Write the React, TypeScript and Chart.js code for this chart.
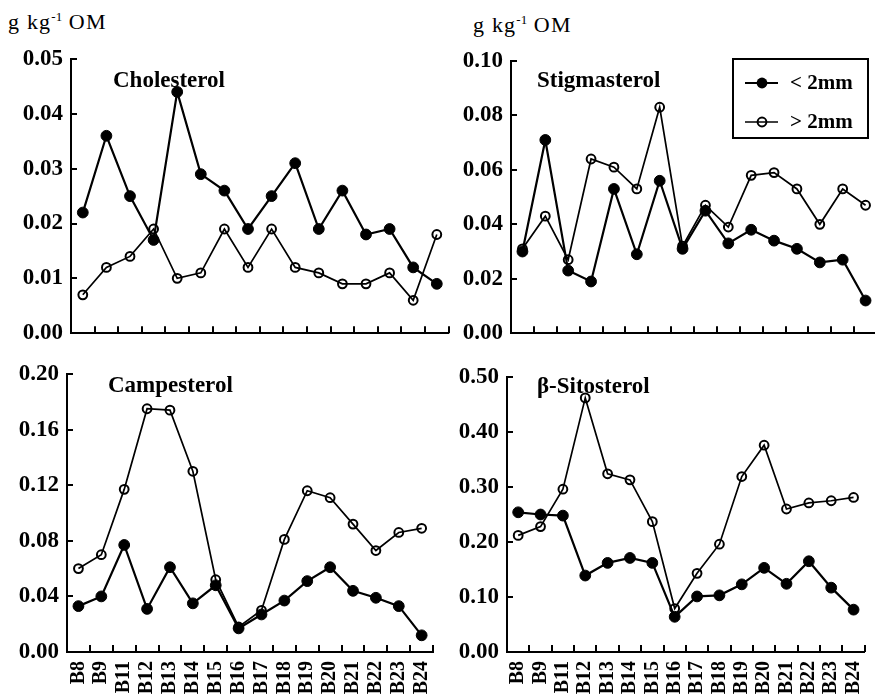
import React, { useEffect, useRef } from "react";
import { Chart, registerables } from "chart.js";

Chart.register(...registerables);

// ---------- data ----------
const CATEGORIES = ["B8", "B9", "B11", "B12", "B13", "B14", "B15", "B16", "B17", "B18", "B19", "B20", "B21", "B22", "B23", "B24"];
const SERIES_LABELS = ["< 2mm", "> 2mm"];
const UNIT_MAIN = "g kg";
const UNIT_SUP = "-1";
const UNIT_TAIL = " OM";

const CHOLESTEROL_LT2 = [0.022, 0.036, 0.025, 0.017, 0.044, 0.029, 0.026, 0.019, 0.025, 0.031, 0.019, 0.026, 0.018, 0.019, 0.012, 0.009];
const CHOLESTEROL_GT2 = [0.007, 0.012, 0.014, 0.019, 0.010, 0.011, 0.019, 0.012, 0.019, 0.012, 0.011, 0.009, 0.009, 0.011, 0.006, 0.018];

const STIGMASTEROL_LT2 = [0.030, 0.071, 0.023, 0.019, 0.053, 0.029, 0.056, 0.031, 0.045, 0.033, 0.038, 0.034, 0.031, 0.026, 0.027, 0.012];
const STIGMASTEROL_GT2 = [0.031, 0.043, 0.027, 0.064, 0.061, 0.053, 0.083, 0.032, 0.047, 0.039, 0.058, 0.059, 0.053, 0.040, 0.053, 0.047];

const CAMPESTEROL_LT2 = [0.033, 0.040, 0.077, 0.031, 0.061, 0.035, 0.048, 0.017, 0.027, 0.037, 0.051, 0.061, 0.044, 0.039, 0.033, 0.012];
const CAMPESTEROL_GT2 = [0.060, 0.070, 0.117, 0.175, 0.174, 0.130, 0.052, 0.018, 0.030, 0.081, 0.116, 0.111, 0.092, 0.073, 0.086, 0.089];

const SITOSTEROL_LT2 = [0.254, 0.250, 0.248, 0.139, 0.162, 0.171, 0.162, 0.064, 0.101, 0.103, 0.123, 0.153, 0.124, 0.165, 0.117, 0.077];
const SITOSTEROL_GT2 = [0.212, 0.228, 0.296, 0.462, 0.324, 0.313, 0.237, 0.079, 0.143, 0.196, 0.319, 0.376, 0.260, 0.271, 0.275, 0.281];

const Y_TICKS_CHOLESTEROL = [0, 0.01, 0.02, 0.03, 0.04, 0.05];
const Y_TICKS_STIGMASTEROL = [0, 0.02, 0.04, 0.06, 0.08, 0.1];
const Y_TICKS_CAMPESTEROL = [0, 0.04, 0.08, 0.12, 0.16, 0.2];
const Y_TICKS_SITOSTEROL = [0, 0.1, 0.2, 0.3, 0.4, 0.5];

const TITLES = ["Cholesterol", "Stigmasterol", "Campesterol", "β-Sitosterol"];

// ---------- layout ----------
const SERIF = "'Liberation Serif', 'Times New Roman', Times, serif";

type Box = { left: number; top: number; width: number; height: number };
type Area = { left: number; right: number; top: number; bottom: number };
type PanelDef = {
  title: string;
  fine: number[];
  coarse: number[];
  yTicks: number[];
  box: Box;
  area: Area;
  titleAt: [number, number];
  showX: boolean;
  legend: boolean;
};

const PANELS: PanelDef[] = [
  {
    title: TITLES[0], fine: CHOLESTEROL_LT2, coarse: CHOLESTEROL_GT2, yTicks: Y_TICKS_CHOLESTEROL,
    box: { left: 0, top: 0, width: 455, height: 355 },
    area: { left: 71, right: 449, top: 59, bottom: 339 },
    titleAt: [113, 87], showX: false, legend: false,
  },
  {
    title: TITLES[1], fine: STIGMASTEROL_LT2, coarse: STIGMASTEROL_GT2, yTicks: Y_TICKS_STIGMASTEROL,
    box: { left: 440, top: 0, width: 447, height: 355 },
    area: { left: 511, right: 877, top: 61, bottom: 339 },
    titleAt: [537, 87], showX: false, legend: true,
  },
  {
    title: TITLES[2], fine: CAMPESTEROL_LT2, coarse: CAMPESTEROL_GT2, yTicks: Y_TICKS_CAMPESTEROL,
    box: { left: 0, top: 350, width: 455, height: 390 },
    area: { left: 67, right: 444, top: 374, bottom: 652 },
    titleAt: [108, 392], showX: true, legend: false,
  },
  {
    title: TITLES[3], fine: SITOSTEROL_LT2, coarse: SITOSTEROL_GT2, yTicks: Y_TICKS_SITOSTEROL,
    box: { left: 440, top: 350, width: 447, height: 390 },
    area: { left: 507, right: 873, top: 377, bottom: 652 },
    titleAt: [537, 393], showX: true, legend: false,
  },
];

const LEGEND_BOX = { left: 733, top: 59, right: 868, bottom: 138 };
const LEGEND_ROWS = [83, 122];

function Panel({ def }: { def: PanelDef }) {
  const ref = useRef<HTMLCanvasElement>(null);

  useEffect(() => {
    const canvas = ref.current;
    if (!canvas) return;
    const { box, area } = def;
    const yWidth = area.left - box.left;
    const xHeight = box.top + box.height - area.bottom;
    const padTop = area.top - box.top;
    const padRight = box.left + box.width - area.right;

    const decor = {
      id: "decor",
      afterDraw(chart: any) {
        const ctx = chart.ctx as CanvasRenderingContext2D;
        const a = chart.chartArea;
        const ys = chart.scales.y;
        ctx.save();
        ctx.strokeStyle = "#000";
        ctx.fillStyle = "#000";
        // inward tick marks on x axis, between categories
        ctx.lineWidth = 2;
        const n = chart.data.labels.length;
        const step = (a.right - a.left) / n;
        for (let i = 1; i <= n; i++) {
          const x = Math.round(a.left + i * step);
          ctx.beginPath();
          ctx.moveTo(x, a.bottom);
          ctx.lineTo(x, a.bottom - 7);
          ctx.stroke();
        }
        // inward tick marks on y axis
        ys.ticks.forEach((t: any) => {
          const y = Math.round(ys.getPixelForValue(t.value));
          if (y >= a.bottom - 1) return;
          ctx.beginPath();
          ctx.moveTo(a.left, y);
          ctx.lineTo(a.left + 6, y);
          ctx.stroke();
        });
        // panel title
        ctx.font = `bold 23px ${SERIF}`;
        ctx.textBaseline = "alphabetic";
        ctx.textAlign = "left";
        ctx.fillText(def.title, def.titleAt[0] - box.left, def.titleAt[1] - box.top);
        // legend
        if (def.legend) {
          const bx = LEGEND_BOX.left - box.left;
          const by = LEGEND_BOX.top - box.top;
          ctx.lineWidth = 2;
          ctx.strokeRect(bx, by, LEGEND_BOX.right - LEGEND_BOX.left, LEGEND_BOX.bottom - LEGEND_BOX.top);
          chart.data.datasets.forEach((ds: any, i: number) => {
            const y = LEGEND_ROWS[i] - box.top;
            const x1 = 745 - box.left;
            const x2 = 778 - box.left;
            const cx = 762 - box.left;
            ctx.lineWidth = ds.borderWidth;
            ctx.beginPath();
            ctx.moveTo(x1, y);
            ctx.lineTo(x2, y);
            ctx.stroke();
            ctx.beginPath();
            ctx.arc(cx, y, ds.pointRadius, 0, Math.PI * 2);
            if (i === 0) {
              ctx.fill();
            } else {
              ctx.lineWidth = ds.pointBorderWidth;
              ctx.stroke();
            }
            ctx.font = `bold 21px ${SERIF}`;
            ctx.textBaseline = "middle";
            ctx.fillText(ds.label, 790 - box.left, y + 1);
          });
        }
        ctx.restore();
      },
    };

    const chart = new Chart(canvas, {
      type: "line",
      data: {
        labels: CATEGORIES,
        datasets: [
          {
            label: SERIES_LABELS[0],
            data: def.fine,
            borderColor: "#000",
            backgroundColor: "#000",
            borderWidth: 2.2,
            pointRadius: 5.4,
            pointBackgroundColor: "#000",
            pointBorderColor: "#000",
            pointBorderWidth: 1,
            tension: 0,
          },
          {
            label: SERIES_LABELS[1],
            data: def.coarse,
            borderColor: "#000",
            backgroundColor: "rgba(0,0,0,0)",
            borderWidth: 1.7,
            pointRadius: 4.4,
            pointBackgroundColor: "rgba(0,0,0,0)",
            pointBorderColor: "#000",
            pointBorderWidth: 2,
            tension: 0,
          },
        ],
      },
      options: {
        responsive: false,
        maintainAspectRatio: false,
        animation: false,
        layout: { padding: { top: padTop, right: padRight, bottom: 0, left: 0 } },
        plugins: { legend: { display: false }, tooltip: { enabled: false } },
        scales: {
          x: {
            type: "category",
            offset: true,
            grid: { display: true, drawOnChartArea: false, drawTicks: false, offset: true },
            border: { display: true, color: "#000", width: 2 },
            ticks: {
              display: def.showX,
              color: "#000",
              font: { family: SERIF, size: 20, weight: "bold" },
              minRotation: 90,
              maxRotation: 90,
              autoSkip: false,
              padding: 9,
            },
            afterFit: (s: any) => {
              s.height = xHeight;
            },
          },
          y: {
            min: def.yTicks[0],
            max: def.yTicks[def.yTicks.length - 1],
            afterBuildTicks: (s: any) => {
              s.ticks = def.yTicks.map((v) => ({ value: v }));
            },
            grid: { display: true, drawOnChartArea: false, drawTicks: false },
            border: { display: true, color: "#000", width: 2 },
            ticks: {
              color: "#000",
              font: { family: SERIF, size: 23, weight: "bold" },
              padding: 8,
              callback: (v: any) => Number(v).toFixed(2),
            },
            afterFit: (s: any) => {
              s.width = yWidth;
            },
          },
        },
      },
      plugins: [decor],
    } as any);

    return () => chart.destroy();
  }, [def]);

  return (
    <canvas
      ref={ref}
      width={def.box.width}
      height={def.box.height}
      style={{
        position: "absolute",
        left: def.box.left,
        top: def.box.top,
        width: def.box.width,
        height: def.box.height,
      }}
    />
  );
}

function UnitLabel({ left, top }: { left: number; top: number }) {
  return (
    <div
      style={{
        position: "absolute",
        left,
        top,
        fontFamily: SERIF,
        fontSize: 22,
        lineHeight: "22px",
        whiteSpace: "pre",
        color: "#000",
        letterSpacing: 1.2,
      }}
    >
      {UNIT_MAIN}
      <span style={{ fontSize: 13, position: "relative", top: -8, letterSpacing: 0 }}>{UNIT_SUP}</span>
      {UNIT_TAIL}
    </div>
  );
}

export default function App() {
  return (
    <div
      style={{
        position: "fixed",
        left: 0,
        top: 0,
        width: 875,
        height: 699,
        overflow: "hidden",
        background: "#fff",
      }}
    >
      <UnitLabel left={8} top={11} />
      <UnitLabel left={473} top={14} />
      {PANELS.map((p, i) => (
        <Panel key={i} def={p} />
      ))}
    </div>
  );
}
